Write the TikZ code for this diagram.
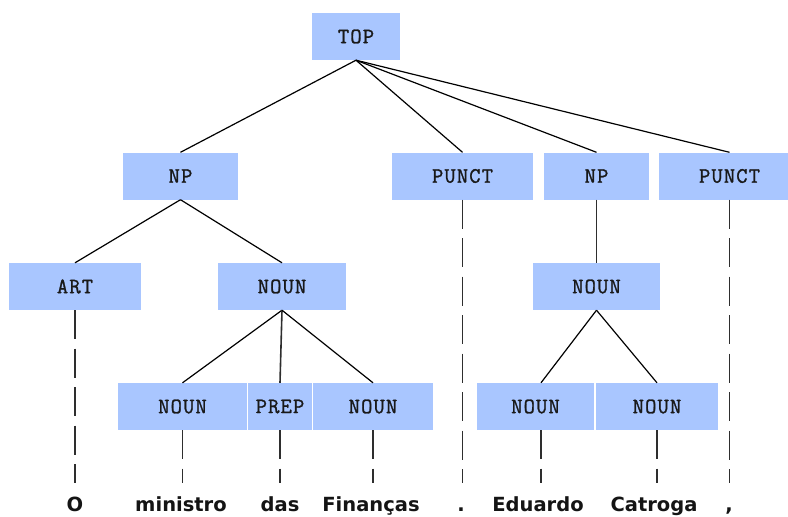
\documentclass[tikz,border=0pt]{standalone}
\usepackage{fontspec}
\newfontfamily\wordfont{DejaVu Sans}[BoldFont={DejaVu Sans Bold}]
\newfontfamily\catfont{Latin Modern Mono}[FakeBold=1.2,LetterSpace=5]
\definecolor{boxblue}{HTML}{A9C6FF}
\definecolor{linegray}{HTML}{2E2E2E}
\begin{document}
\begin{tikzpicture}[x=1pt,y=-1pt,
  cat/.style={fill=boxblue,draw=none,minimum height=47pt,inner sep=0pt,
    font=\fontsize{22}{24}\selectfont\catfont,text=black!90},
  word/.style={inner sep=0pt,anchor=base,text height=14pt,text depth=0pt,
    font=\fontsize{19.5}{22}\selectfont\wordfont\bfseries,text=black!92},
  branch/.style={draw=black,line width=1.2pt},
  stem/.style={draw=linegray,line width=1.6pt},
  leaf/.style={draw=linegray,line width=1.6pt,dash pattern=on 29pt off 9.5pt,shorten >=14pt}]
\useasboundingbox (0,0) rectangle (788,517);

% phrase-level categories
\node[cat,minimum width=88pt]  (top)    at (356,36.5)   {TOP};
\node[cat,minimum width=115pt] (np1)    at (180.5,176)  {NP};
\node[cat,minimum width=141pt] (punct1) at (462.5,176)  {PUNCT};
\node[cat,minimum width=105pt] (np2)    at (596.5,176)  {NP};
\node[cat,minimum width=141pt] (punct2) at (729.5,176)  {PUNCT};
\node[cat,minimum width=132pt] (art)    at (75,286.5)   {ART};
\node[cat,minimum width=128pt] (nouna)  at (282,286.5)  {NOUN};
\node[cat,minimum width=127pt] (nounb)  at (596.5,286.5){NOUN};

% word-level categories
\node[cat,minimum width=129pt] (n1)   at (182.5,406.5) {NOUN};
\node[cat,minimum width=64pt]  (prep) at (280,406.5)   {PREP};
\node[cat,minimum width=120pt] (n3)   at (373,406.5)   {NOUN};
\node[cat,minimum width=117pt] (n4)   at (535.5,406.5) {NOUN};
\node[cat,minimum width=122pt] (n5)   at (657,406.5)   {NOUN};

% tokens
\node[word] (w1) at (75,511)  {O};
\node[word] (w2) at (181,511) {ministro};
\node[word] (w3) at (280,511) {das};
\node[word] (w4) at (371,511) {Finanças};
\node[word] (w5) at (461,511) {.};
\node[word] (w6) at (538,511) {Eduardo};
\node[word] (w7) at (654,511) {Catroga};
\node[word] (w8) at (729,511) {,};

% tree branches
\draw[branch] (top.south) -- (np1.north);
\draw[branch] (top.south) -- (punct1.north);
\draw[branch] (top.south) -- (np2.north);
\draw[branch] (top.south) -- (punct2.north);
\draw[branch] (np1.south) -- (art.north);
\draw[branch] (np1.south) -- (nouna.north);
\draw[branch] (nouna.south) -- (n1.north);
\draw[stem]   (nouna.south) -- (prep.north);
\draw[branch] (nouna.south) -- (n3.north);
\draw[stem]   (np2.south) -- (nounb.north);
\draw[branch] (nounb.south) -- ([xshift=5.5pt]n4.north);
\draw[branch] (nounb.south) -- (n5.north);

% links from categories down to tokens
\draw[leaf] (art.south) -- (art.south |- w1.north);
\draw[leaf] (n1.south) -- (n1.south |- w2.north);
\draw[leaf] (prep.south) -- (prep.south |- w3.north);
\draw[leaf] (n3.south) -- (n3.south |- w4.north);
\draw[leaf] (punct1.south) -- (punct1.south |- w5.north);
\draw[leaf] ([xshift=5.5pt]n4.south) -- ([xshift=5.5pt]n4.south |- w6.north);
\draw[leaf] (n5.south) -- (n5.south |- w7.north);
\draw[leaf] (punct2.south) -- (punct2.south |- w8.north);
\end{tikzpicture}
\end{document}
